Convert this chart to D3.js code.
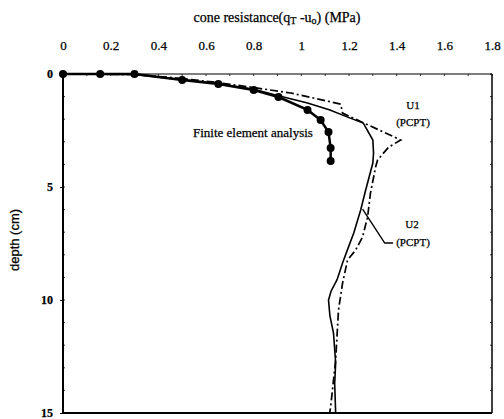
<!DOCTYPE html>
<html>
<head>
<meta charset="utf-8">
<script src="https://cdn.jsdelivr.net/npm/d3@7"></script>
<style>
body { margin: 0; background: #fff; }
text { font-family: "Liberation Serif", "Times New Roman", serif; fill: #000; stroke: #000; stroke-width: 0.25px; }
</style>
</head>
<body>
<div id="chart"></div>
<script>
// finite element analysis (dots)
var feQ = [0, 0.156, 0.30, 0.50, 0.652, 0.80, 0.904, 1.026, 1.081, 1.114, 1.123, 1.123];
var feD = [0, 0, 0, 0.27, 0.44, 0.71, 1.02, 1.59, 2.04, 2.57, 3.27, 3.85];

// solid line
var u2Q = [0, 0.30, 0.50, 0.65, 0.80, 0.90, 1.026, 1.12, 1.20, 1.26, 1.30, 1.303, 1.30, 1.27, 1.249, 1.22, 1.198, 1.173, 1.15, 1.125, 1.114, 1.12, 1.135, 1.144, 1.14, 1.144];
var u2D = [0, 0.02, 0.25, 0.42, 0.68, 0.95, 1.28, 1.59, 1.93, 2.17, 2.92, 3.5, 3.94, 5.13, 6.02, 7.04, 7.65, 8.36, 9.1, 9.6, 10.0, 10.7, 11.46, 12.79, 13.7, 15];

// dash-dot line
var u1Q = [0, 0.30, 0.50, 0.65, 0.80, 0.955, 1.165, 1.173, 1.236, 1.417, 1.367, 1.32, 1.312, 1.29, 1.278, 1.257, 1.228, 1.194, 1.173, 1.156, 1.144, 1.123, 1.119];
var u1D = [0, 0.02, 0.20, 0.38, 0.60, 0.84, 1.33, 1.73, 2.04, 2.92, 3.23, 3.8, 4.1, 5.27, 6.33, 7.21, 7.79, 8.23, 9.25, 10.44, 12.65, 14.73, 15];

var xTicks = [0, 0.2, 0.4, 0.6, 0.8, 1, 1.2, 1.4, 1.6, 1.8];
var yTicks = [0, 5, 10, 15];

var W = 504, H = 419;
var svg = d3.select("#chart").append("svg").attr("width", W).attr("height", H);

var x = d3.scaleLinear().domain([0, 1.8]).range([63, 492]);
var y = d3.scaleLinear().domain([0, 15]).range([74, 413]);

function pts(qs, ds) {
    return qs.map(function(q, i){ return [q, ds[i]]; });
}
var line = d3.line().x(function(d){ return x(d[0]); }).y(function(d){ return y(d[1]); });

// top axis
var topAxis = d3.axisTop(x).tickValues(xTicks).tickSize(0).tickPadding(24)
    .tickFormat(function(d){ return d3.format("")(d); });
var gTop = svg.append("g").attr("transform", "translate(0," + y(0) + ")").call(topAxis);
gTop.select(".domain").remove();
gTop.selectAll("text").style("font-size", "13px").style("font-family", "Liberation Serif");

// left axis
var leftAxis = d3.axisLeft(y).tickValues(yTicks).tickSize(3).tickPadding(7);
var gLeft = svg.append("g").attr("transform", "translate(" + x(0) + ",0)").call(leftAxis);
gLeft.select(".domain").remove();
gLeft.selectAll("text").style("font-size", "12px").style("font-family", "Liberation Serif").style("font-weight", "bold");
gLeft.selectAll("line").attr("stroke-width", 1);

// minor ticks
var minorX = d3.range(0, 1.81, 0.1);
svg.append("g").selectAll("line").data(minorX).enter().append("line")
    .attr("x1", function(d){ return x(d); }).attr("x2", function(d){ return x(d); })
    .attr("y1", y(0)).attr("y2", y(0) + 2)
    .attr("stroke", "#000").attr("stroke-width", 0.8);
var minorY = d3.range(0, 15.1, 1);
svg.append("g").selectAll("line").data(minorY).enter().append("line")
    .attr("x1", x(1.8)).attr("x2", x(1.8) - 2)
    .attr("y1", function(d){ return y(d); }).attr("y2", function(d){ return y(d); })
    .attr("stroke", "#000").attr("stroke-width", 0.8);
svg.append("g").selectAll("line").data(minorY).enter().append("line")
    .attr("x1", x(0)).attr("x2", x(0) + 2)
    .attr("y1", function(d){ return y(d); }).attr("y2", function(d){ return y(d); })
    .attr("stroke", "#000").attr("stroke-width", 0.8);

// frame
svg.append("line").attr("x1", x(0)).attr("x2", x(1.8)).attr("y1", y(0)).attr("y2", y(0))
    .attr("stroke", "#000").attr("stroke-width", 1.2);
svg.append("line").attr("x1", x(1.8)).attr("x2", x(1.8)).attr("y1", y(0)).attr("y2", y(15))
    .attr("stroke", "#000").attr("stroke-width", 1.5);
svg.append("line").attr("x1", x(0)).attr("x2", x(1.8)).attr("y1", y(15)).attr("y2", y(15))
    .attr("stroke", "#000").attr("stroke-width", 2);
svg.append("line").attr("x1", x(0)).attr("x2", x(0)).attr("y1", y(0)).attr("y2", y(15))
    .attr("stroke", "#000").attr("stroke-width", 2);

// titles
var title = svg.append("text").attr("x", 277).attr("y", 22).attr("text-anchor", "middle")
    .style("font-size", "14px");
title.append("tspan").text("cone resistance(q");
title.append("tspan").text("T").style("font-size", "10px").attr("dy", 2);
title.append("tspan").text(" -u").attr("dy", -2);
title.append("tspan").text("o").style("font-size", "10px").attr("dy", 2);
title.append("tspan").text(")  (MPa)").attr("dy", -2);

svg.append("text").attr("transform", "translate(19,240) rotate(-90)")
    .attr("text-anchor", "middle")
    .style("font-family", "Liberation Sans").style("font-size", "13px")
    .text("depth (cm)");

// curves
svg.append("path").datum(pts(u1Q, u1D)).attr("d", line)
    .attr("fill", "none").attr("stroke", "#000").attr("stroke-width", 1.7)
    .attr("stroke-dasharray", "8,3,2,3");
svg.append("path").datum(pts(u2Q, u2D)).attr("d", line)
    .attr("fill", "none").attr("stroke", "#000").attr("stroke-width", 1.6);
svg.append("path").datum(pts(feQ, feD)).attr("d", line)
    .attr("fill", "none").attr("stroke", "#000").attr("stroke-width", 2.5);
svg.append("g").selectAll("circle").data(pts(feQ, feD)).enter().append("circle")
    .attr("cx", function(d){ return x(d[0]); })
    .attr("cy", function(d){ return y(d[1]); })
    .attr("r", 4).attr("fill", "#000");

// annotations
svg.append("text").attr("x", 193).attr("y", 137).style("font-size", "13px")
    .text("Finite element analysis");
svg.append("text").attr("x", 413).attr("y", 109).attr("text-anchor", "middle").style("font-size", "11px").text("U1");
svg.append("text").attr("x", 413).attr("y", 126).attr("text-anchor", "middle").style("font-size", "11px").text("(PCPT)");
svg.append("text").attr("x", 412).attr("y", 228).attr("text-anchor", "middle").style("font-size", "11px").text("U2");
svg.append("text").attr("x", 413).attr("y", 246).attr("text-anchor", "middle").style("font-size", "11px").text("(PCPT)");

var pointer = [[1.385, 7.48], [1.35, 7.48], [1.257, 5.98]];
svg.append("path").datum(pointer).attr("d", line)
    .attr("fill", "none").attr("stroke", "#000").attr("stroke-width", 1.4);
</script>
</body>
</html>
